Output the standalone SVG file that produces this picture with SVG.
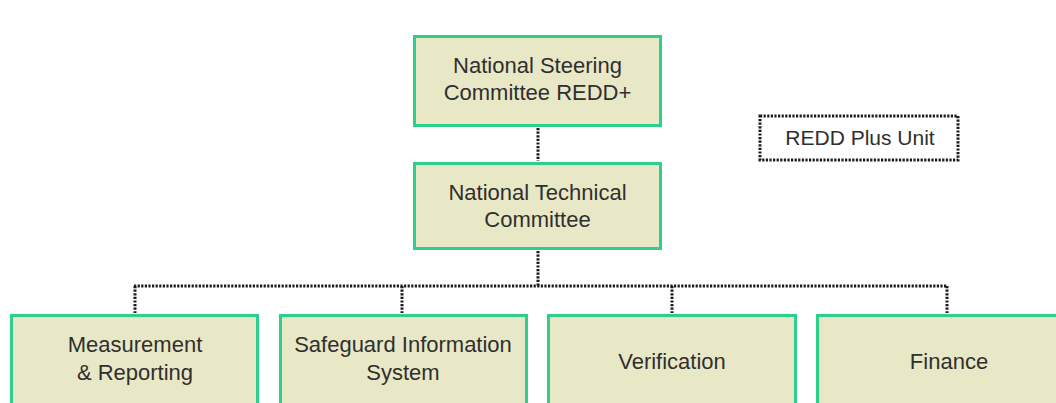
<svg xmlns="http://www.w3.org/2000/svg" width="1056" height="403" viewBox="0 0 1056 403">
<style>
.box{fill:#e9e8c6;stroke:#2dcf8c;stroke-width:3}
.dot{fill:none;stroke:#1a1a1a;stroke-width:3;stroke-dasharray:2.2 1.4}
.t{font-family:"Liberation Sans",Arial,sans-serif;font-size:22px;fill:#2f2f2f;text-anchor:middle}
</style>
<rect width="1056" height="403" fill="#ffffff"/>
<g id="connectors">
<line class="dot" x1="538" y1="128" x2="538" y2="161"/>
<line class="dot" x1="538" y1="251" x2="538" y2="286"/>
<line class="dot" x1="134" y1="286" x2="947" y2="286"/>
<line class="dot" x1="135" y1="286" x2="135" y2="313"/>
<line class="dot" x1="402" y1="286" x2="402" y2="313"/>
<line class="dot" x1="672" y1="286" x2="672" y2="313"/>
<line class="dot" x1="947" y1="286" x2="947" y2="313"/>
</g>
<g id="steering">
<rect class="box" x="414.5" y="36.5" width="246" height="89"/>
<text class="t" x="537.5" y="73">National Steering</text>
<text class="t" x="537.5" y="100">Committee REDD+</text>
</g>
<g id="technical">
<rect class="box" x="414.5" y="163.5" width="246" height="85"/>
<text class="t" x="537.5" y="200">National Technical</text>
<text class="t" x="537.5" y="227">Committee</text>
</g>
<g id="redd-unit">
<rect class="dot" x="760" y="116" width="198" height="44"/>
<text class="t" x="860" y="145" style="font-size:21px">REDD Plus Unit</text>
</g>
<g id="measurement">
<rect class="box" x="11.5" y="315.5" width="246" height="100"/>
<text class="t" x="135" y="352">Measurement</text>
<text class="t" x="135" y="380">&amp; Reporting</text>
</g>
<g id="safeguard">
<rect class="box" x="280.5" y="315.5" width="246" height="100"/>
<text class="t" x="403" y="352">Safeguard Information</text>
<text class="t" x="403" y="380">System</text>
</g>
<g id="verification">
<rect class="box" x="548.5" y="315.5" width="247" height="100"/>
<text class="t" x="672" y="369">Verification</text>
</g>
<g id="finance">
<rect class="box" x="817.5" y="315.5" width="262" height="100"/>
<text class="t" x="949" y="369">Finance</text>
</g>
</svg>
